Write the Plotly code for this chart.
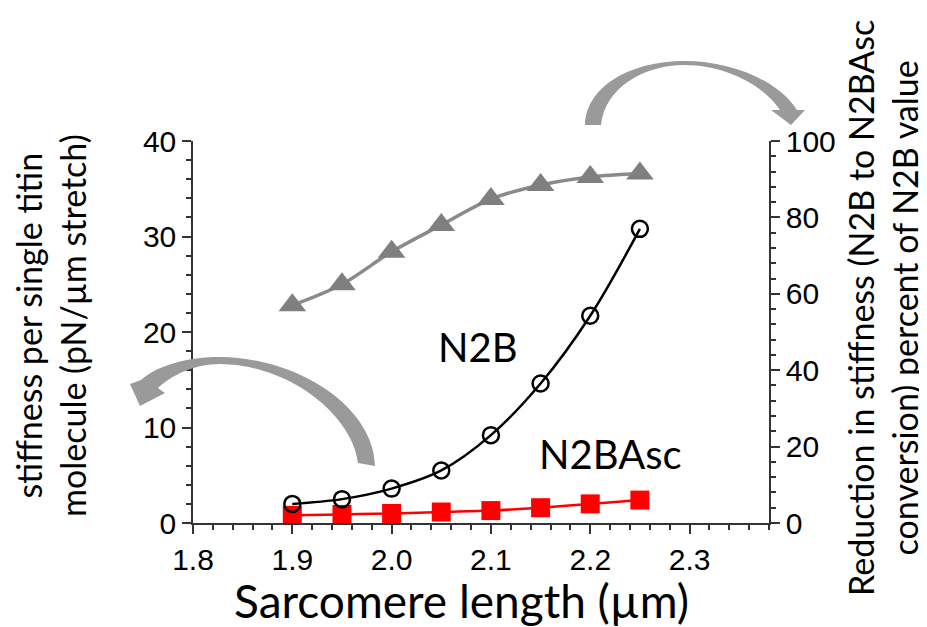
import plotly.graph_objects as go

# ---- data ----
sarcomere_length = [1.90, 1.95, 2.00, 2.05, 2.10, 2.15, 2.20, 2.25]
n2b_stiffness = [2.0, 2.5, 3.6, 5.5, 9.2, 14.6, 21.7, 30.8]
n2basc_stiffness = [0.8, 0.9, 1.0, 1.15, 1.3, 1.6, 2.0, 2.4]
reduction_percent = [57.0, 62.5, 71.0, 78.0, 84.8, 88.5, 90.6, 91.5]

x_ticks = [1.8, 1.9, 2.0, 2.1, 2.2, 2.3]
x_tick_labels = ["1.8", "1.9", "2.0", "2.1", "2.2", "2.3"]
y_left_ticks = [0, 10, 20, 30, 40]
y_right_ticks = [0, 20, 40, 60, 80, 100]

W, H = 927, 627
ML, MR, MT, MB = 185, 166, 133, 112
PW, PH = W - ML - MR, H - MT - MB


def px(x):
    return (x - ML) / PW


def py(y):
    return (H - MB - y) / PH


TITLE_FONT = "Lato"
TICK_FONT = "Liberation Sans, Arial"

fig = go.Figure()

fig.add_trace(go.Scatter(
    x=sarcomere_length, y=reduction_percent, yaxis="y2", mode="lines+markers",
    line=dict(color="#8a8a8a", width=3.5, shape="spline"),
    marker=dict(symbol="triangle-up", size=24, color="#7f7f7f"),
    showlegend=False))

fig.add_trace(go.Scatter(
    x=sarcomere_length, y=n2basc_stiffness, mode="lines+markers",
    line=dict(color="#ff0000", width=2.5, shape="spline"),
    marker=dict(symbol="square", size=19, color="#ff0000"),
    showlegend=False))

fig.add_trace(go.Scatter(
    x=sarcomere_length, y=n2b_stiffness, mode="lines+markers",
    line=dict(color="black", width=2.5, shape="spline"),
    marker=dict(symbol="circle-open", size=16, color="black", line=dict(width=2.5)),
    showlegend=False))


def pathstr(pts_cmds):
    out = []
    for cmd, pts in pts_cmds:
        if cmd == "Z":
            out.append("Z")
            continue
        coords = " ".join(f"{px(a):.4f},{py(b):.4f}" for a, b in pts)
        out.append(f"{cmd} {coords}")
    return " ".join(out)


arrow_left = pathstr([
    ("M", [(133, 372)]),
    ("C", [(150, 357), (180, 349), (212, 349)]),
    ("C", [(292, 350), (366, 400), (367, 458)]),
    ("L", [(350, 455)]),
    ("C", [(345, 410), (285, 357), (212, 356)]),
    ("C", [(185, 356), (163, 368), (150, 380)]),
    ("L", [(157, 385)]),
    ("L", [(132, 398)]),
    ("L", [(122, 376)]),
    ("Z", []),
])

arrow_top = pathstr([
    ("M", [(577, 117)]),
    ("C", [(578, 80), (620, 53), (677, 53)]),
    ("C", [(722, 53), (770, 72), (789, 102)]),
    ("L", [(797, 102)]),
    ("L", [(783, 117)]),
    ("L", [(763, 102)]),
    ("L", [(772, 102)]),
    ("C", [(755, 76), (715, 57), (677, 57)]),
    ("C", [(635, 57), (597, 80), (593, 117)]),
    ("Z", []),
])

shapes = [
    dict(type="path", path=arrow_left, xref="paper", yref="paper",
         fillcolor="#9a9a9a", line=dict(width=0), layer="above"),
    dict(type="path", path=arrow_top, xref="paper", yref="paper",
         fillcolor="#9a9a9a", line=dict(width=0), layer="above"),
]


def ann(text, x, y, size, xref="paper", yref="paper", angle=0):
    return dict(text=text, x=x, y=y, xref=xref, yref=yref, showarrow=False,
                xanchor="center", yanchor="middle", textangle=angle,
                font=dict(family=TITLE_FONT, size=size, color="black"))


annotations = [
    ann("N2B", 2.087, 18.4, 40, "x", "y"),
    ann("N2BAsc", 2.22, 7.2, 40, "x", "y"),
    ann("Sarcomere length (µm)", px(453), py(592), 46),
    ann("stiffness per single titin<br>molecule (pN/µm stretch)", px(42), py(318), 34,
        angle=-90),
    ann("Reduction in stiffness (N2B to N2BAsc<br>conversion) percent of N2B value",
        px(874), py(300), 34, angle=-90),
]

axis_common = dict(showgrid=False, zeroline=False, showline=True, linecolor="#333333",
                   linewidth=1.5, ticks="outside", ticklen=9, tickwidth=1.5,
                   tickcolor="#333333",
                   tickfont=dict(family=TICK_FONT, size=30, color="black"))

minor_common = dict(ticks="outside", ticklen=5, tickwidth=1.5, tickcolor="#333333")

fig.update_layout(
    width=W, height=H, autosize=False,
    margin=dict(l=ML, r=MR, t=MT, b=MB),
    paper_bgcolor="white", plot_bgcolor="white",
    xaxis=dict(range=[1.8, 2.38], tickvals=x_ticks, ticktext=x_tick_labels,
               minor=dict(dtick=0.02, tick0=1.8, **minor_common),
               **axis_common),
    yaxis=dict(range=[0, 40], tickvals=y_left_ticks,
               minor=dict(dtick=2, tick0=0, **minor_common),
               **axis_common),
    yaxis2=dict(range=[0, 100], tickvals=y_right_ticks, overlaying="y", side="right",
                minor=dict(dtick=4, tick0=0, **minor_common),
                **axis_common),
    shapes=shapes,
    annotations=annotations,
)

fig.write_html("out.html")
